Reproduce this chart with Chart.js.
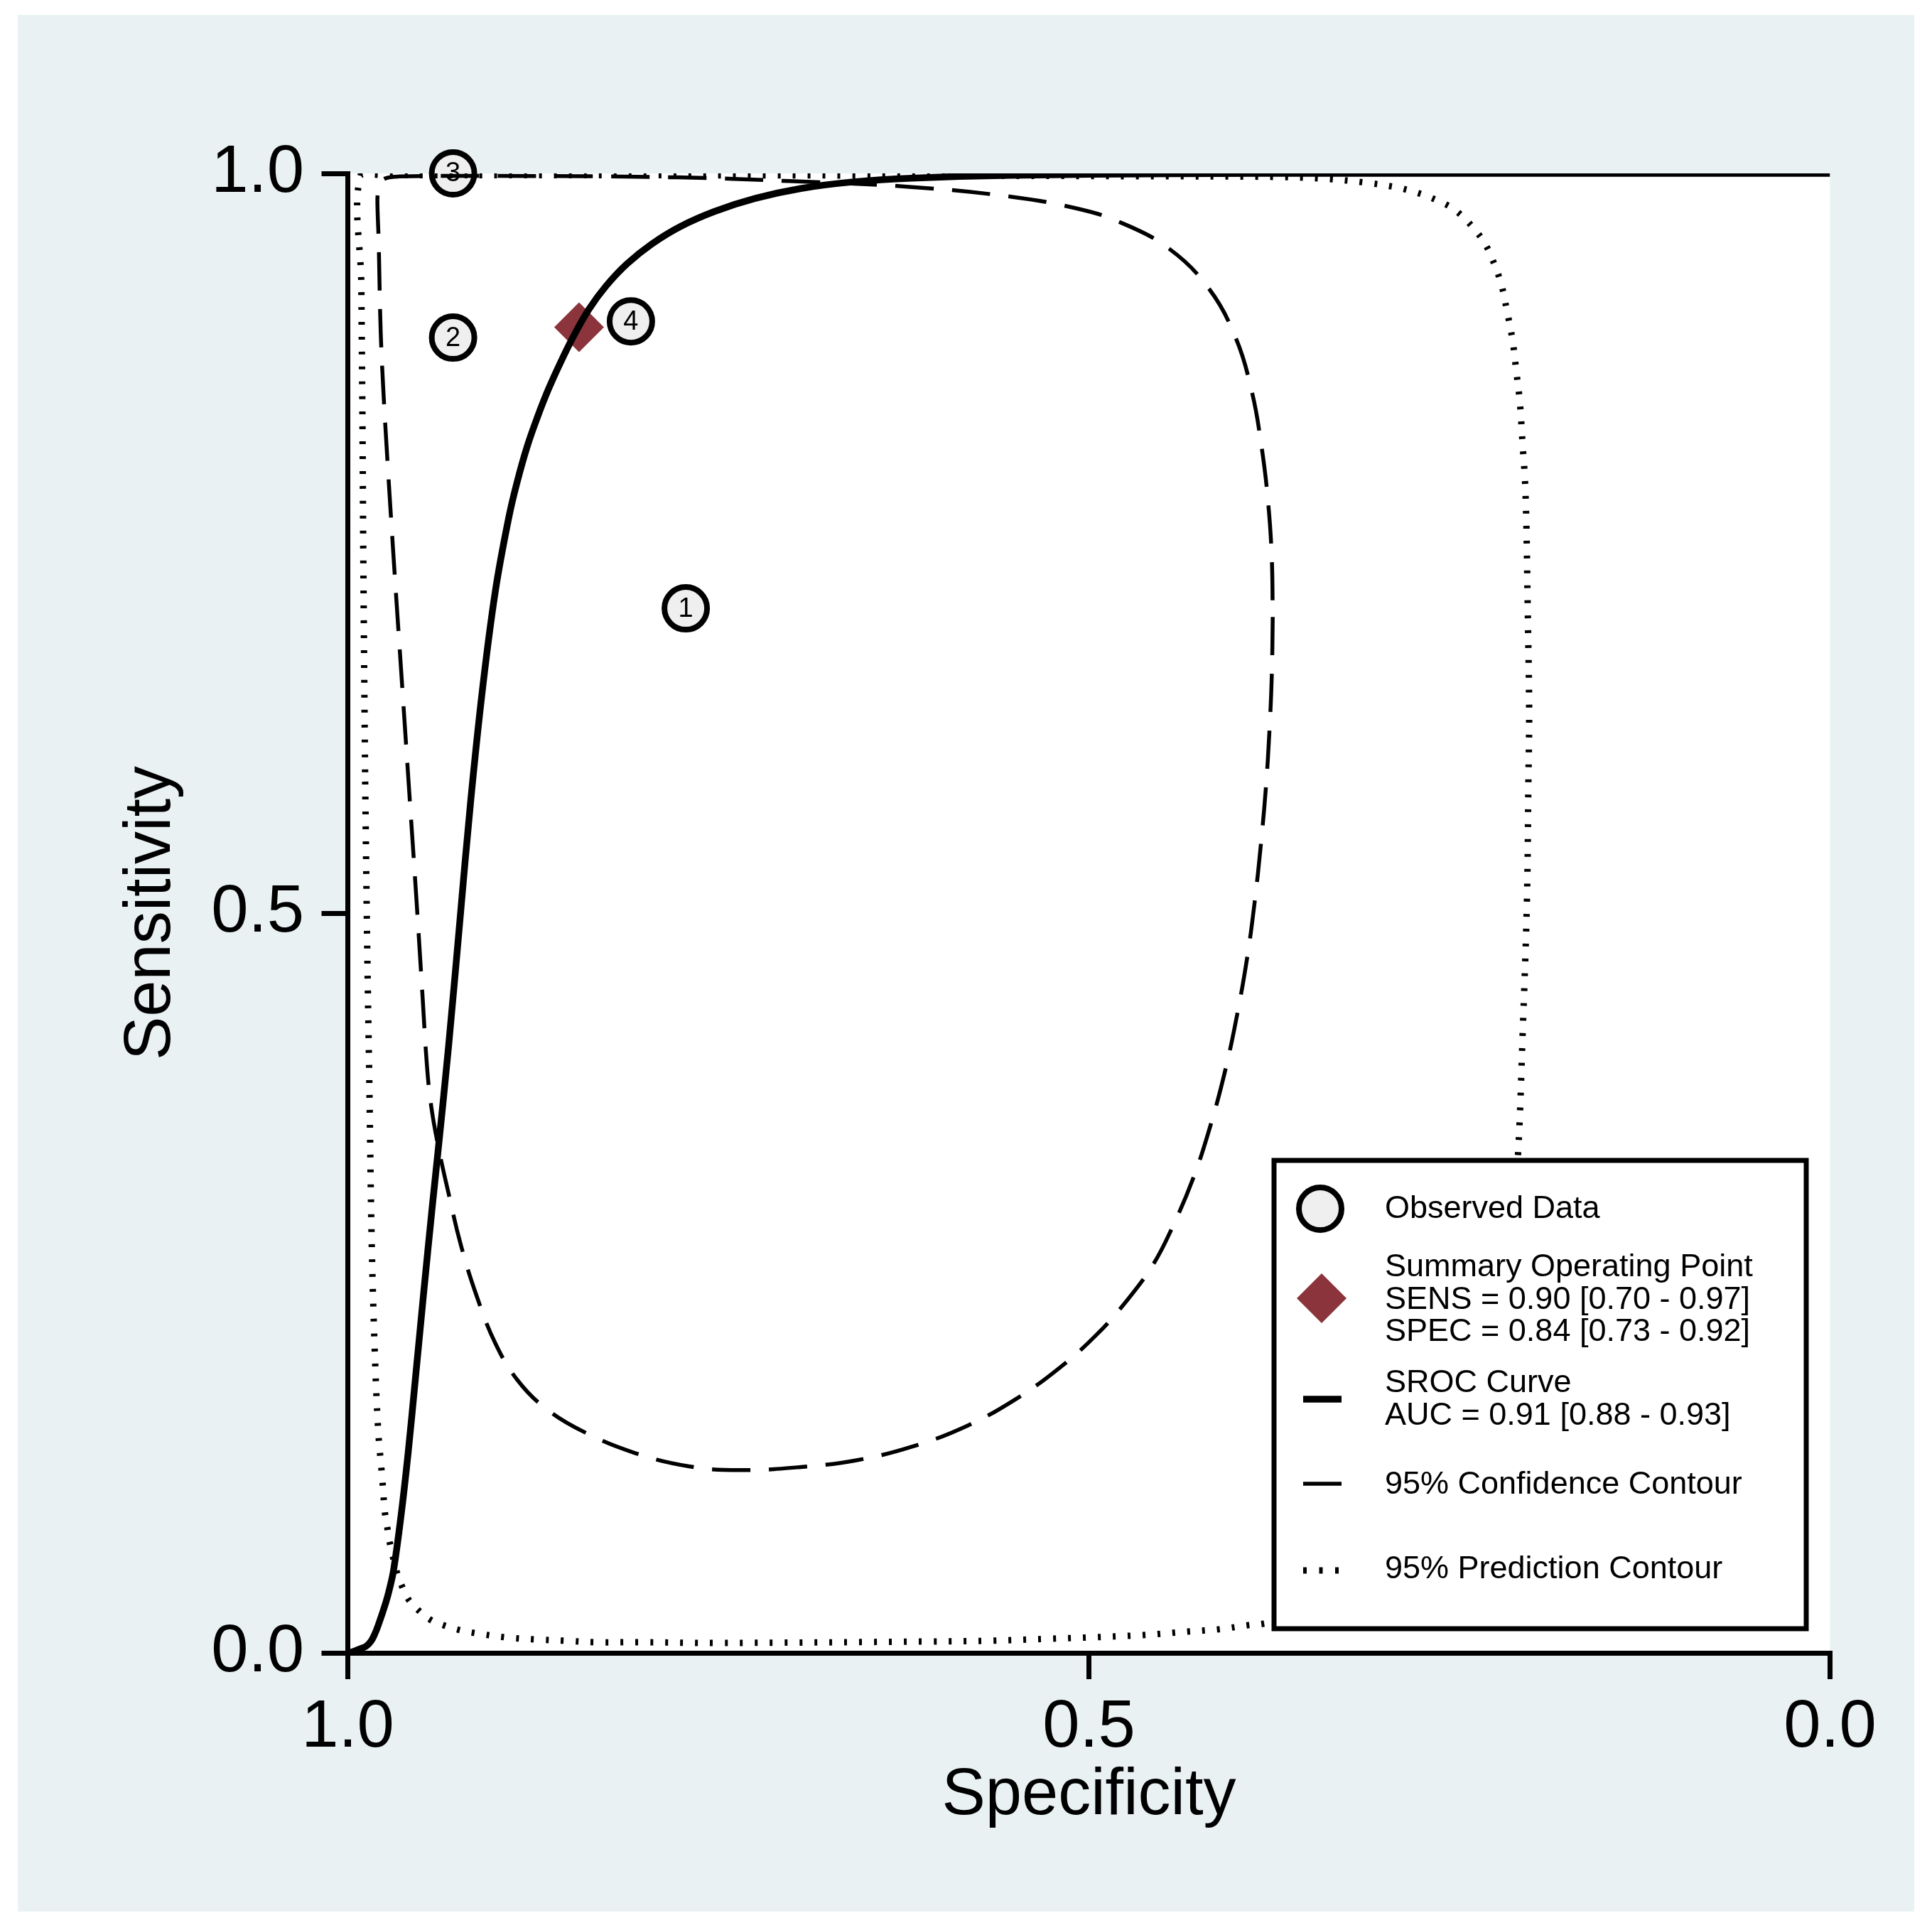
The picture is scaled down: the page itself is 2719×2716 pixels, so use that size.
<!DOCTYPE html>
<html>
<head>
<meta charset="utf-8">
<title>SROC</title>
<script src="https://cdn.jsdelivr.net/npm/chart.js@4.4.1/dist/chart.umd.min.js"></script>
<style>
  html, body { margin: 0; padding: 0; background: #ffffff; }
  #srocChart { display: block; }
</style>
</head>
<body>
<canvas id="srocChart" width="2719" height="2716"></canvas>
<script>
/* =========================================================
   SROC PLOT - DATA
   ========================================================= */

/* ================= OBSERVED STUDIES ================= */
const studyLabels = ["1", "2", "3", "4"];
const studySpec = [0.772, 0.929, 0.929, 0.809];
const studySens = [0.706, 0.889, 1.000, 0.900];

/* ================= SUMMARY POINT ================= */
const summarySpec = [0.844];
const summarySens = [0.896];

/* ================= SROC CURVE ================= */
const srocSpec = [1.000, 0.9969, 0.9919, 0.9878, 0.9845, 0.9820, 0.9795, 0.9745, 0.9720, 0.9691,
    0.9641, 0.9594, 0.9545, 0.9489, 0.9431, 0.9392, 0.9321, 0.9246, 0.9171, 0.9092,
    0.9005, 0.8914, 0.8855, 0.8789, 0.8722, 0.8647, 0.8564, 0.8473, 0.8373, 0.8257,
    0.8115, 0.7949, 0.7758, 0.7525, 0.7251, 0.6943, 0.6586, 0.6195, 0.5530, 0.4450,
    0.3203, 0.0000];
const srocSens = [0.000, 0.0007, 0.0027, 0.0044, 0.0077, 0.0123, 0.0186, 0.0336, 0.0427, 0.0561,
    0.0927, 0.1343, 0.1843, 0.2426, 0.3009, 0.3384, 0.4092, 0.4925, 0.5758, 0.6508,
    0.7174, 0.7674, 0.7924, 0.8157, 0.8349, 0.8540, 0.8724, 0.8907, 0.9082, 0.9240,
    0.9390, 0.9523, 0.9640, 0.9743, 0.9831, 0.9898, 0.9943, 0.9968, 0.9987, 0.9997,
    1.0000, 1.0000];

/* ================= 95% CONFIDENCE CONTOUR ================= */
const confSpec = [0.3760, 0.3766, 0.3782, 0.3806, 0.3840, 0.3881, 0.3931, 0.3998, 0.4077, 0.4177,
    0.4295, 0.4446, 0.4566, 0.4741, 0.4948, 0.5198, 0.5489, 0.5821, 0.6195, 0.6569,
    0.6943, 0.7359, 0.7692, 0.8066, 0.8406, 0.8664, 0.8855, 0.9005, 0.9130, 0.9238,
    0.9321, 0.9387, 0.9437, 0.9466, 0.9495, 0.9537, 0.9587, 0.9637, 0.9687, 0.9732,
    0.9761, 0.9778, 0.9786, 0.9792, 0.9800, 0.9798, 0.9782, 0.9744, 0.9653, 0.9022,
    0.7775, 0.7027, 0.6196, 0.5530, 0.5105, 0.4810, 0.4470, 0.4198, 0.4014, 0.3902,
    0.3835, 0.3790, 0.3766, 0.3760];
const confSens = [0.7002, 0.6617, 0.6234, 0.5849, 0.5464, 0.5082, 0.4708, 0.4324, 0.3951, 0.3575,
    0.3212, 0.2857, 0.2626, 0.2385, 0.2151, 0.1927, 0.1718, 0.1535, 0.1393, 0.1302,
    0.1256, 0.1235, 0.1260, 0.1352, 0.1493, 0.1652, 0.1843, 0.2093, 0.2410, 0.2759,
    0.3109, 0.3409, 0.3692, 0.3967, 0.4425, 0.5092, 0.5841, 0.6591, 0.7340, 0.8048,
    0.8548, 0.8923, 0.9256, 0.9548, 0.9781, 0.9864, 0.9933, 0.9967, 0.9979, 0.9983,
    0.9973, 0.9948, 0.9908, 0.9843, 0.9768, 0.9678, 0.9499, 0.9231, 0.8899, 0.8530,
    0.8151, 0.7766, 0.7390, 0.7002];

/* ================= 95% PREDICTION CONTOUR ================= */
const predSpec = [0.9883, 0.9868, 0.9856, 0.9839, 0.9820, 0.9796, 0.9768, 0.9750, 0.9734, 0.9718,
    0.9670, 0.9635, 0.9590, 0.9518, 0.9438, 0.9342, 0.9246, 0.9143, 0.8943, 0.8737,
    0.8536, 0.8334, 0.8018, 0.7510, 0.6077, 0.5660, 0.5253, 0.4951, 0.4644, 0.4332,
    0.4126, 0.3925, 0.3823, 0.3478, 0.2999, 0.2615, 0.2328, 0.2184, 0.2107, 0.2073,
    0.2045, 0.2035, 0.2030, 0.2040, 0.2049, 0.2059, 0.2073, 0.2093, 0.2117, 0.2141,
    0.2179, 0.2222, 0.2294, 0.2342, 0.2405, 0.2477, 0.2554, 0.2650, 0.2746, 0.2840,
    0.2941, 0.3143, 0.3382, 0.3718, 0.4677, 0.6595, 0.8511, 0.9710, 0.9914, 0.9909,
    0.9902, 0.9895, 0.9883];
const predSens = [0.5889, 0.4688, 0.3929, 0.2781, 0.2094, 0.1518, 0.1182, 0.0951, 0.0850, 0.0749,
    0.0548, 0.0451, 0.0360, 0.0283, 0.0221, 0.0183, 0.0154, 0.0134, 0.0106, 0.0091,
    0.0082, 0.0072, 0.0072, 0.0067, 0.0077, 0.0082, 0.0096, 0.0106, 0.0120, 0.0144,
    0.0159, 0.0187, 0.0197, 0.0269, 0.0461, 0.0845, 0.1470, 0.2286, 0.3333, 0.4207,
    0.5082, 0.5889, 0.6369, 0.7089, 0.7642, 0.7944, 0.8151, 0.8458, 0.8665, 0.8866,
    0.9068, 0.9265, 0.9457, 0.9548, 0.9630, 0.9707, 0.9769, 0.9817, 0.9856, 0.9885,
    0.9909, 0.9939, 0.9962, 0.9976, 0.9981, 0.9986, 0.9988, 0.9988, 0.9986, 0.9251,
    0.8434, 0.7339, 0.5889];

/* ================= AXES / LEGEND TEXT ================= */
const axisTicks = [0, 0.5, 1];

const legendObserved = ["Observed Data"];
const legendSummary = ["Summary Operating Point", "SENS = 0.90 [0.70 - 0.97]", "SPEC = 0.84 [0.73 - 0.92]"];
const legendSroc = ["SROC Curve", "AUC = 0.91 [0.88 - 0.93]"];
const legendConf = ["95% Confidence Contour"];
const legendPred = ["95% Prediction Contour"];

/* ================= STYLE ================= */
const FONT = "'Liberation Sans', Arial, Helvetica, sans-serif";
const PANEL_COLOR = "#e9f1f3";
const STUDY_FILL = "#efefef";
const SUMMARY_COLOR = "#8b343b";
const CONF_DASH = [54, 26];
const PRED_DASH = [4, 17];

Chart.defaults.font.family = FONT;
Chart.defaults.color = "#000";

function toPoints(xs, ys) {
    return xs.map((x, i) => ({ x: x, y: ys[i] }));
}

/* =========================================================
   PLUGIN: GRAPH REGION + WHITE PLOT REGION
   ========================================================= */
const panelPlugin = {
    id: "panel",
    beforeDraw(chart) {
        const { ctx, chartArea: a } = chart;
        ctx.save();
        ctx.fillStyle = "#ffffff";
        ctx.fillRect(0, 0, chart.width, chart.height);
        ctx.fillStyle = PANEL_COLOR;
        ctx.fillRect(25, 21, 2669, 2669);
        ctx.fillStyle = "#ffffff";
        ctx.fillRect(a.left, a.top, a.right - a.left, a.bottom - a.top);
        ctx.restore();
    }
};

/* =========================================================
   PLUGIN: STUDY NUMBERS INSIDE CIRCLES
   ========================================================= */
const studyLabelPlugin = {
    id: "studyLabels",
    afterDatasetDraw(chart, args) {
        if (args.meta.label !== "Observed Data") return;
        const ctx = chart.ctx;
        ctx.save();
        ctx.fillStyle = "#000";
        ctx.font = "38px " + FONT;
        ctx.textAlign = "center";
        ctx.textBaseline = "middle";
        args.meta.data.forEach((pt, i) => {
            ctx.fillText(studyLabels[i], pt.x, pt.y + 1);
        });
        ctx.restore();
    }
};

/* =========================================================
   PLUGIN: LEGEND BOX (inside plot, bottom right)
   ========================================================= */
const legendBoxPlugin = {
    id: "legendBox",
    afterDraw(chart) {
        const ctx = chart.ctx;
        const bx = 1793, by = 1633, bw = 749, bh = 659;
        const symX = 1860, lineX0 = 1834, lineX1 = 1888, textX = 1949;

        ctx.save();
        ctx.fillStyle = "#ffffff";
        ctx.fillRect(bx, by, bw, bh);
        ctx.strokeStyle = "#000";
        ctx.lineWidth = 7;
        ctx.strokeRect(bx, by, bw, bh);

        // observed circle
        ctx.beginPath();
        ctx.arc(symX - 2, 1701, 30, 0, Math.PI * 2);
        ctx.fillStyle = STUDY_FILL;
        ctx.fill();
        ctx.lineWidth = 8;
        ctx.stroke();

        // summary diamond
        ctx.beginPath();
        ctx.moveTo(symX - 35, 1827);
        ctx.lineTo(symX, 1792);
        ctx.lineTo(symX + 35, 1827);
        ctx.lineTo(symX, 1862);
        ctx.closePath();
        ctx.fillStyle = SUMMARY_COLOR;
        ctx.fill();

        // sroc line
        ctx.lineCap = "butt";
        ctx.beginPath();
        ctx.lineWidth = 9.5;
        ctx.moveTo(lineX0, 1969);
        ctx.lineTo(lineX1, 1969);
        ctx.stroke();

        // confidence contour
        ctx.beginPath();
        ctx.lineWidth = 5.5;
        ctx.setLineDash(CONF_DASH);
        ctx.moveTo(lineX0, 2088);
        ctx.lineTo(lineX1, 2088);
        ctx.stroke();

        // prediction contour
        ctx.beginPath();
        ctx.lineWidth = 9;
        ctx.setLineDash([5, 17.5]);
        ctx.moveTo(lineX0, 2210);
        ctx.lineTo(lineX1, 2210);
        ctx.stroke();
        ctx.setLineDash([]);

        // texts
        ctx.fillStyle = "#000";
        ctx.font = "45px " + FONT;
        ctx.textAlign = "left";
        ctx.textBaseline = "middle";
        const rows = [
            [legendObserved, 1702],
            [legendSummary, 1784],
            [legendSroc, 1947],
            [legendConf, 2090],
            [legendPred, 2209]
        ];
        rows.forEach(([lines, y0]) => {
            lines.forEach((t, i) => ctx.fillText(t, textX, y0 + i * 45.5));
        });
        ctx.restore();
    }
};

/* =========================================================
   CHART
   ========================================================= */
function axisOptions(isX) {
    return {
        type: "linear",
        min: 0,
        max: 1,
        reverse: isX,
        afterBuildTicks: s => { s.ticks = axisTicks.map(v => ({ value: v })); },
        afterFit: s => {
            if (isX) s.height = 390;
            else s.width = 489.5;
        },
        grid: {
            drawOnChartArea: false,
            drawTicks: true,
            tickLength: 37,
            lineWidth: 7,
            color: "#000"
        },
        border: { display: true, color: "#000", width: 7 },
        ticks: {
            padding: isX ? 22 : 24.5,
            color: "#000",
            maxRotation: 0,
            font: { size: 94, lineHeight: 1 },
            callback: v => Number(v).toFixed(1)
        },
        title: {
            display: true,
            text: isX ? "Specificity" : "Sensitivity",
            color: "#000",
            font: { size: 92, lineHeight: 1 },
            padding: isX ? { top: 0, bottom: 142 } : { top: 168, bottom: 0 }
        }
    };
}

function renderSrocChart() {
    const ctx = document.getElementById("srocChart");

    new Chart(ctx, {
        type: "scatter",
        data: {
            datasets: [
                {
                    label: "SROC Curve",
                    data: toPoints(srocSpec, srocSens),
                    showLine: true,
                    borderColor: "#000",
                    borderWidth: 9.5,
                    pointRadius: 0,
                    tension: 0.4,
                    order: 1
                },
                {
                    label: "95% Confidence Contour",
                    data: toPoints(confSpec, confSens),
                    showLine: true,
                    borderColor: "#000",
                    borderWidth: 5.5,
                    borderDash: CONF_DASH,
                    pointRadius: 0,
                    tension: 0.4,
                    order: 2
                },
                {
                    label: "95% Prediction Contour",
                    data: toPoints(predSpec, predSens),
                    showLine: true,
                    borderColor: "#000",
                    borderWidth: 9,
                    borderDash: PRED_DASH,
                    pointRadius: 0,
                    tension: 0.35,
                    order: 3
                },
                {
                    label: "Summary Operating Point",
                    data: toPoints(summarySpec, summarySens),
                    pointStyle: "rectRot",
                    pointRadius: 35,
                    pointBackgroundColor: SUMMARY_COLOR,
                    pointBorderWidth: 0,
                    clip: false,
                    order: 4
                },
                {
                    label: "Observed Data",
                    data: toPoints(studySpec, studySens),
                    pointStyle: "circle",
                    pointRadius: 30,
                    pointBackgroundColor: STUDY_FILL,
                    pointBorderColor: "#000",
                    pointBorderWidth: 8,
                    clip: false,
                    order: 5
                }
            ]
        },
        options: {
            responsive: false,
            animation: false,
            devicePixelRatio: 1,
            events: [],
            layout: { padding: { left: 0, top: 244, right: 143.5, bottom: 0 } },
            plugins: {
                legend: { display: false },
                tooltip: { enabled: false }
            },
            scales: {
                x: axisOptions(true),
                y: axisOptions(false)
            }
        },
        plugins: [panelPlugin, studyLabelPlugin, legendBoxPlugin]
    });
}

renderSrocChart();
</script>
</body>
</html>
